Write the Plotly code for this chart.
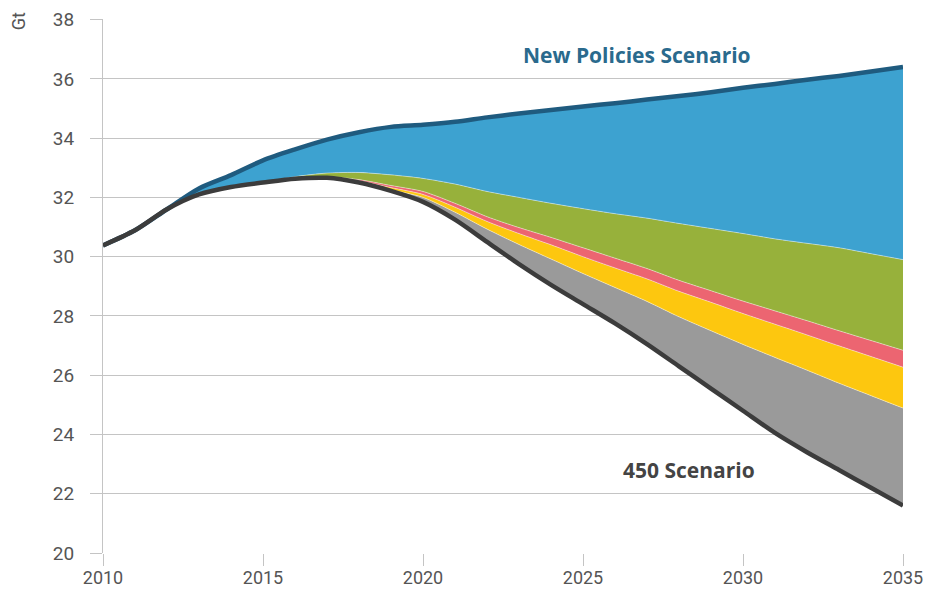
import plotly.graph_objects as go

years = list(range(2010, 2036))

# New Policies Scenario emissions (Gt)
nps = [30.38, 30.89, 31.6, 32.3, 32.75, 33.25, 33.62, 33.95, 34.2, 34.38,
       34.45, 34.55, 34.7, 34.83, 34.95, 35.07, 35.18, 35.3, 35.42, 35.55,
       35.7, 35.83, 35.97, 36.1, 36.25, 36.4]
# top of green wedge (blue wedge lies between this and NPS)
green_top = [30.38, 30.89, 31.6, 32.1, 32.35, 32.5, 32.7, 32.82, 32.84, 32.76,
             32.64, 32.45, 32.2, 32.0, 31.8, 31.62, 31.45, 31.3, 31.12, 30.95,
             30.78, 30.6, 30.45, 30.3, 30.1, 29.9]
# top of red wedge
red_top = [30.38, 30.89, 31.6, 32.1, 32.35, 32.5, 32.63, 32.7, 32.6, 32.4,
           32.2, 31.8, 31.35, 30.98, 30.65, 30.3, 29.95, 29.6, 29.2, 28.85,
           28.5, 28.17, 27.84, 27.5, 27.17, 26.84]
# top of yellow wedge
yellow_top = [30.38, 30.89, 31.6, 32.1, 32.35, 32.5, 32.63, 32.7, 32.56, 32.33,
              32.1, 31.67, 31.19, 30.78, 30.4, 30.0, 29.62, 29.25, 28.83, 28.46,
              28.08, 27.72, 27.36, 26.99, 26.63, 26.27]
# top of grey wedge
grey_top = [30.38, 30.89, 31.6, 32.1, 32.35, 32.5, 32.63, 32.7, 32.52, 32.26,
            32.0, 31.5, 30.93, 30.41, 29.92, 29.43, 28.96, 28.49, 27.97, 27.5,
            27.04, 26.6, 26.17, 25.73, 25.31, 24.89]
# 450 Scenario emissions (Gt)
s450 = [30.38, 30.89, 31.6, 32.1, 32.35, 32.5, 32.63, 32.66, 32.5, 32.22,
        31.85, 31.25, 30.5, 29.75, 29.05, 28.4, 27.75, 27.05, 26.3, 25.55,
        24.8, 24.05, 23.4, 22.8, 22.2, 21.6]

y_ticks = [20, 22, 24, 26, 28, 30, 32, 34, 36, 38]
x_ticks = [2010, 2015, 2020, 2025, 2030, 2035]

FONT = "Roboto"
LABEL_FONT = "Open Sans"
GRID = "#c4c4c4"
TICKCOL = "#555555"

fig = go.Figure()

def area(vals, color, name, fill):
    fig.add_trace(go.Scatter(
        x=years, y=vals, mode="lines", name=name,
        line=dict(color="rgba(255,255,255,0.55)", width=0.8, shape="spline", smoothing=0.8),
        fill=fill, fillcolor=color, showlegend=False, hoverinfo="x+y+name"))

area(s450, None, "450 Scenario base", "none")
area(grey_top, "#9a9a9a", "grey", "tonexty")
area(yellow_top, "#fdc70f", "yellow", "tonexty")
area(red_top, "#ec6571", "red", "tonexty")
area(green_top, "#97b13b", "green", "tonexty")
area(nps, "#3da2d0", "blue", "tonexty")

fig.add_trace(go.Scatter(x=years, y=nps, mode="lines", name="New Policies Scenario",
                         line=dict(color="#1f5b7f", width=4.5, shape="spline", smoothing=0.8),
                         showlegend=False))
fig.add_trace(go.Scatter(x=years, y=s450, mode="lines", name="450 Scenario",
                         line=dict(color="#3c3c3c", width=4.5, shape="spline", smoothing=0.8),
                         showlegend=False))

fig.add_annotation(x=2026.7, y=36.82, xref="x", yref="y", text="<b>New Policies Scenario</b>",
                   showarrow=False, font=dict(family=LABEL_FONT, size=21, color="#2a6a8d"))
fig.add_annotation(x=2028.3, y=22.8, xref="x", yref="y", text="<b>450 Scenario</b>",
                   showarrow=False, font=dict(family=LABEL_FONT, size=21, color="#444444"))
fig.add_annotation(x=-0.106, y=0.996, xref="paper", yref="paper", text="Gt", textangle=-90,
                   xanchor="center", yanchor="middle",
                   showarrow=False, font=dict(family=FONT, size=18, color=TICKCOL))

fig.update_layout(
    width=927, height=590,
    margin=dict(l=103, r=24, t=19, b=37, autoexpand=False),
    paper_bgcolor="white", plot_bgcolor="white",
    font=dict(family=FONT, size=19, color=TICKCOL),
    hovermode="x unified",
)

fig.update_xaxes(range=[2010, 2035], tickvals=x_ticks, ticks="outside", ticklen=12,
                 tickcolor=GRID, tickwidth=1, showgrid=False, zeroline=False,
                 showline=False, automargin=False, ticklabelstandoff=-4,
                 tickfont=dict(family=FONT, size=18, color=TICKCOL), fixedrange=True)
fig.update_yaxes(range=[20, 38.02], tickvals=y_ticks, ticks="outside", ticklen=12,
                 tickcolor=GRID, tickwidth=1, showgrid=True, gridcolor=GRID, gridwidth=1,
                 zeroline=False, showline=True, linecolor=GRID, linewidth=1,
                 ticklabelstandoff=12, automargin=False,
                 tickfont=dict(family=FONT, size=19, color=TICKCOL), fixedrange=True)

# remove the page's default body margin so the figure fills the window exactly
fig.write_html("out.html", config={"displayModeBar": False},
               post_script="document.body.style.margin='0';document.body.style.overflow='hidden';")
